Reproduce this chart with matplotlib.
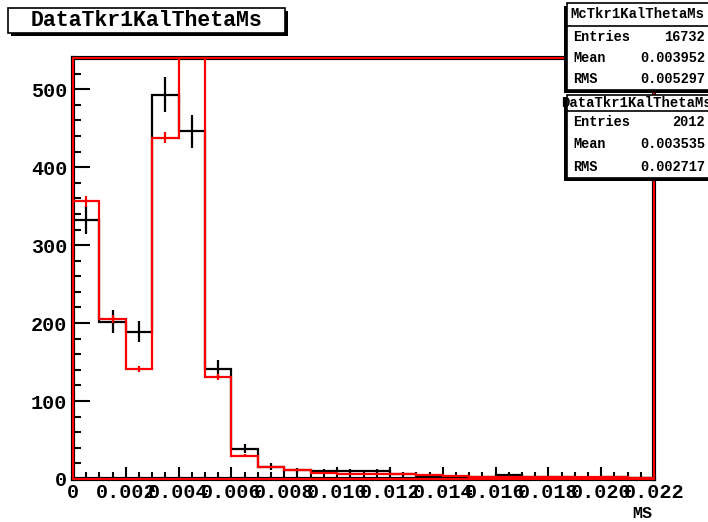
import numpy as np
import matplotlib.pyplot as plt
from matplotlib.patches import Rectangle
from matplotlib.ticker import MultipleLocator, FixedLocator, FixedFormatter

plt.rcParams['font.family'] = ['Liberation Mono', 'DejaVu Sans Mono']
plt.rcParams['font.weight'] = 'bold'

# -----------------------------
# data (bin width 0.001, 0 .. 0.022)
# -----------------------------
edges = np.arange(23) * 0.001
data_counts = [332, 202, 189, 493, 446, 141, 39, 16, 11, 10, 10, 10,
               6, 4, 3, 2, 5, 2, 2, 1, 2, 1]
mc_counts = [356, 205, 141, 438, 600, 131, 30, 15, 11, 8, 7, 7,
             6, 5, 4, 3, 3, 2, 2, 2, 2, 1]
mc_scale = 2012 / 16732

xtick_vals = [0, 0.002, 0.004, 0.006, 0.008, 0.010, 0.012, 0.014,
              0.016, 0.018, 0.020, 0.022]
xtick_text = ["0", "0.002", "0.004", "0.006", "0.008", "0.010", "0.012",
              "0.014", "0.016", "0.018", "0.020", "0.022"]

mc_stats = ("McTkr1KalThetaMs", "16732", "0.003952", "0.005297")
data_stats = ("DataTkr1KalThetaMs", "2012", "0.003535", "0.002717")

W, H = 708, 522
fig = plt.figure(figsize=(W / 100, H / 100), dpi=100)


def fx(px):
    return px / W


def fy(py):
    return 1 - py / H


ax = fig.add_axes([fx(73), fy(479), fx(654) - fx(73), fy(58) - fy(479)])

centers = 0.5 * (edges[:-1] + edges[1:])
data_counts = np.array(data_counts, dtype=float)
mc_counts = np.array(mc_counts, dtype=float)

# data histogram (black)
ax.stairs(data_counts, edges, baseline=0, color="black", lw=1.6, zorder=2)
ax.errorbar(centers, data_counts, yerr=np.sqrt(data_counts), fmt="none",
            ecolor="black", elinewidth=1.6, capsize=0, zorder=2)

# MC histogram (red), normalised to data
ax.stairs(mc_counts, edges, baseline=0, color="red", lw=1.6, zorder=3)
ax.errorbar(centers, mc_counts, yerr=np.sqrt(mc_counts * mc_scale), fmt="none",
            ecolor="red", elinewidth=1.6, capsize=0, zorder=3)

ax.set_xlim(0, 0.022)
ax.set_ylim(0, 540)

ax.xaxis.set_major_locator(FixedLocator(xtick_vals))
ax.xaxis.set_major_formatter(FixedFormatter(xtick_text))
ax.xaxis.set_minor_locator(MultipleLocator(0.0005))
ax.yaxis.set_major_locator(MultipleLocator(100))
ax.yaxis.set_minor_locator(MultipleLocator(20))

ax.tick_params(axis="both", which="both", direction="in", width=1.5,
               labelsize=14.5, top=False, right=False)
ax.tick_params(axis="x", which="major", length=9, pad=3)
ax.tick_params(axis="x", which="minor", length=5)
ax.tick_params(axis="y", which="major", length=12, pad=4)
ax.tick_params(axis="y", which="minor", length=6)
for lab in ax.get_xticklabels() + ax.get_yticklabels():
    lab.set_fontweight("bold")

for s in ax.spines.values():
    s.set_linewidth(3)
    s.set_color("black")
# red frame just inside the black one
ax.add_patch(Rectangle((0, 0), 1, 1, transform=ax.transAxes, fill=False,
                       edgecolor="red", lw=1.5, zorder=4, clip_on=False))

fig.text(fx(652), fy(513), "MS", ha="right", va="center", fontsize=12,
         fontweight="bold")


# -----------------------------
# boxes (title + stats)
# -----------------------------
def box(x0, y0, x1, y1, shadow=(3, 3)):
    sx, sy = shadow
    fig.add_artist(Rectangle((fx(x0 + sx), fy(y1 + sy)), fx(x1) - fx(x0),
                             fy(y0) - fy(y1), transform=fig.transFigure,
                             facecolor="black", edgecolor="black", lw=0))
    fig.add_artist(Rectangle((fx(x0), fy(y1)), fx(x1) - fx(x0),
                             fy(y0) - fy(y1), transform=fig.transFigure,
                             facecolor="white", edgecolor="black", lw=1.2))


box(8, 8, 285, 33)
fig.text(fx(146), fy(21), "DataTkr1KalThetaMs", ha="center", va="center",
         fontsize=15.5, fontweight="bold")


def stats_box(y0, y1, ysep, stats):
    name, entries, mean, rms = stats
    box(567, y0, 712, y1, shadow=(-3, 3))
    fig.add_artist(plt.Line2D([fx(567), fx(712)], [fy(ysep), fy(ysep)],
                              transform=fig.transFigure, color="black", lw=1.2))
    fig.text(fx(637), fy((y0 + ysep) / 2), name, ha="center", va="center",
             fontsize=10, fontweight="bold")
    rows = [("Entries", entries), ("Mean", mean), ("RMS", rms)]
    step = (y1 - ysep) / 3
    for i, (lab, val) in enumerate(rows):
        yy = ysep + step * (i + 0.5)
        fig.text(fx(573), fy(yy), lab, ha="left", va="center", fontsize=9.8,
                 fontweight="bold")
        fig.text(fx(705), fy(yy), val, ha="right", va="center", fontsize=9.8,
                 fontweight="bold")


stats_box(3, 90, 26, mc_stats)
stats_box(95, 178, 111, data_stats)

fig.savefig("out.png", dpi=100)
